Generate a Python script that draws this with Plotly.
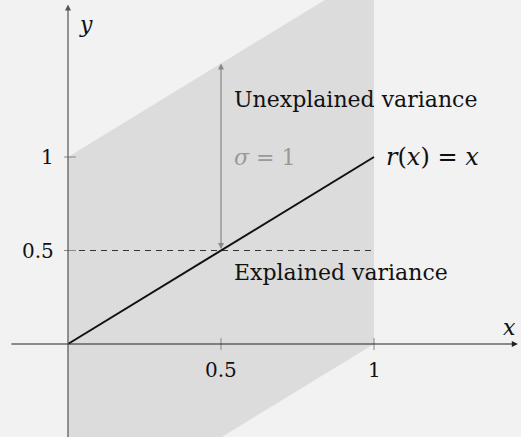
import plotly.graph_objects as go

# Regression function r(x) = x on [0, 1]
line_x = [0, 1]
line_y = [0, 1]

# Band of +/- sigma around the regression line
sigma = 1
band_x = [0, 0, 1, 1, 0]
band_y = [-1, 1, 2, 0, -1]

# Reference level and tick labels
mean_level = 0.5
x_ticks = [0.5, 1]
x_tick_labels = ["0.5", "1"]
y_ticks = [0.5, 1]
y_tick_labels = ["0.5", "1"]

X_RANGE = [-0.2222, 1.4804]
Y_RANGE = [-0.4973, 1.8396]

SERIF = "DejaVu Serif"
BG = "#f2f2f2"
BAND = "#dcdcdc"

fig = go.Figure()

fig.add_trace(go.Scatter(
    x=band_x, y=band_y, mode="lines", fill="toself",
    fillcolor=BAND, line=dict(width=0), hoverinfo="skip",
))
fig.add_trace(go.Scatter(
    x=[0, 1], y=[mean_level, mean_level], mode="lines",
    line=dict(color="#333333", width=1, dash="6px,5px"), hoverinfo="skip",
))
fig.add_trace(go.Scatter(
    x=line_x, y=line_y, mode="lines",
    line=dict(color="#111111", width=2), hoverinfo="skip",
))

annotations = []
shapes = []

# Axes with arrow heads
annotations.append(dict(
    x=1.47, y=0, ax=-0.19, ay=0, xref="x", yref="y", axref="x", ayref="y",
    showarrow=True, arrowhead=2, arrowsize=1, arrowwidth=1.2,
    arrowcolor="#222222", text="",
))
annotations.append(dict(
    x=0, y=1.815, ax=0, ay=-0.52, xref="x", yref="y", axref="x", ayref="y",
    showarrow=True, arrowhead=2, arrowsize=1, arrowwidth=1.2,
    arrowcolor="#555555", text="",
))

# Tick marks crossing the axes
for t in x_ticks:
    shapes.append(dict(type="line", xref="x", yref="y", x0=t, x1=t,
                       y0=-0.032, y1=0.032, line=dict(color="#888888", width=1)))
for t in y_ticks:
    shapes.append(dict(type="line", xref="x", yref="y", x0=-0.013, x1=0.026,
                       y0=t, y1=t, line=dict(color="#888888", width=1)))

for t, lab in zip(x_ticks, x_tick_labels):
    annotations.append(dict(x=t, y=-0.14, xref="x", yref="y", text=lab,
                            showarrow=False, xanchor="center", yanchor="middle",
                            font=dict(family=SERIF, size=20, color="#111111")))
for t, lab in zip(y_ticks, y_tick_labels):
    annotations.append(dict(x=-0.04, y=t, xref="x", yref="y", text=lab,
                            showarrow=False, xanchor="right", yanchor="middle",
                            font=dict(family=SERIF, size=20, color="#111111")))

# Axis names
annotations.append(dict(x=1.444, y=0.09, xref="x", yref="y", text="<i>x</i>",
                        showarrow=False, xanchor="center", yanchor="middle",
                        font=dict(family=SERIF, size=22, color="#111111")))
annotations.append(dict(x=0.058, y=1.71, xref="x", yref="y", text="<i>y</i>",
                        showarrow=False, xanchor="center", yanchor="middle",
                        font=dict(family=SERIF, size=22, color="#111111")))

# Double-headed arrow spanning one sigma above the mean level
annotations.append(dict(
    x=0.5, y=mean_level + sigma, ax=0.5, ay=mean_level,
    xref="x", yref="y", axref="x", ayref="y",
    showarrow=True, arrowhead=2, startarrowhead=2, arrowside="end+start",
    arrowsize=1, startarrowsize=1, arrowwidth=1.2, arrowcolor="#888888", text="",
))

# Text labels
annotations.append(dict(x=0.536, y=1.305, xref="x", yref="y",
                        text="Unexplained variance", showarrow=False,
                        xanchor="left", yanchor="middle",
                        font=dict(family=SERIF, size=22, color="#111111")))
annotations.append(dict(x=0.536, y=0.38, xref="x", yref="y",
                        text="Explained variance", showarrow=False,
                        xanchor="left", yanchor="middle",
                        font=dict(family=SERIF, size=22, color="#111111")))
annotations.append(dict(x=0.536, y=1.0, xref="x", yref="y",
                        text="<i>σ</i> = 1", showarrow=False,
                        xanchor="left", yanchor="middle",
                        font=dict(family=SERIF, size=22, color="#999999")))
annotations.append(dict(x=1.033, y=1.0, xref="x", yref="y",
                        text="<i>r</i>(<i>x</i>) = <i>x</i>", showarrow=False,
                        xanchor="left", yanchor="middle",
                        font=dict(family=SERIF, size=24, color="#111111")))

fig.update_layout(
    width=521, height=437,
    margin=dict(l=0, r=0, t=0, b=0),
    paper_bgcolor=BG, plot_bgcolor=BG,
    showlegend=False,
    xaxis=dict(range=X_RANGE, visible=False, fixedrange=True),
    yaxis=dict(range=Y_RANGE, visible=False, fixedrange=True),
    annotations=annotations, shapes=shapes,
)

fig.write_html("out.html")
